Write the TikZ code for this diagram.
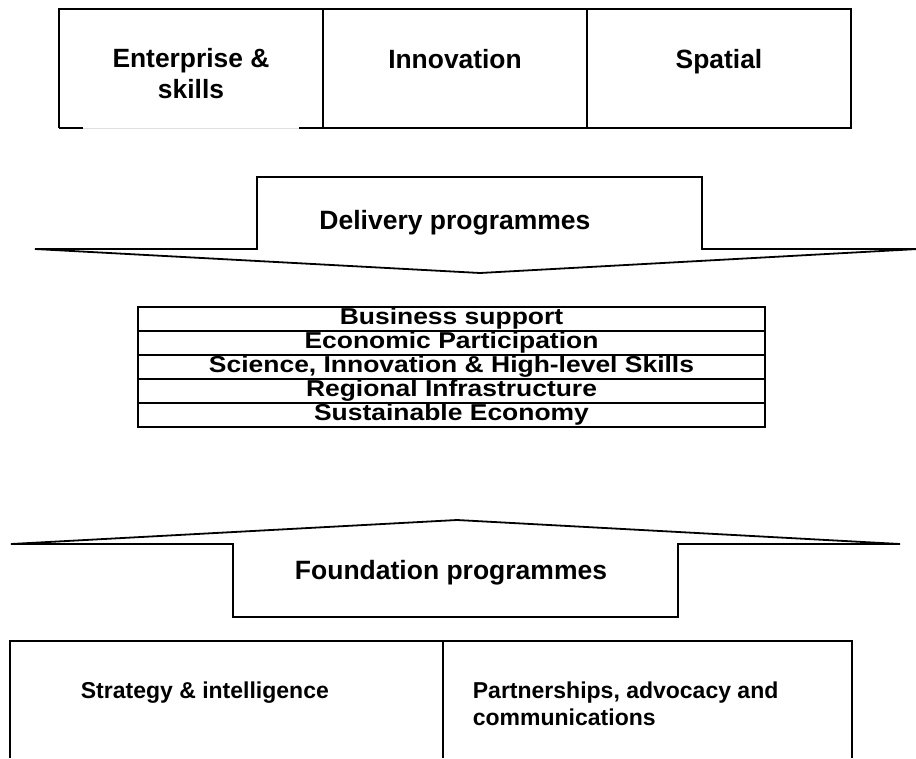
\documentclass[tikz,border=0pt]{standalone}
\usepackage{fontspec}
\setmainfont{Liberation Sans}
\newfontfamily\widesans[FakeStretch=1.15]{Liberation Sans}
\begin{document}
\begin{tikzpicture}[x=1pt,y=-1pt,line width=1.8pt,line join=miter,
  cell/.style={font=\fontsize{26.4}{31}\selectfont\bfseries,align=center},
  rowbox/.style={draw,minimum width=627pt,minimum height=24pt,inner sep=0pt,
    font=\widesans\fontsize{23}{24}\selectfont\bfseries},
  bandtext/.style={font=\fontsize{26.5}{31}\selectfont\bfseries,anchor=base},
  foot/.style={font=\fontsize{23}{27}\selectfont\bfseries,align=left,
    anchor=north west,inner sep=0pt}]
\useasboundingbox (0,0) rectangle (916,758);

% top row of three themes
\draw (59,128) -- (59,9) -- (851,9) -- (851,128) -- (299,128);
\draw (59,128) -- (83,128);
\draw[gray!25,line width=0.8pt] (83,128) -- (299,128);
\draw (323,9) -- (323,128);
\draw (587,9) -- (587,128);
\node[cell] (ent) at (191,74) {Enterprise \&\\skills};
\node[cell,anchor=base] (inn) at (455,68) {Innovation};
\node[cell,anchor=base] (spa) at (719,68) {Spatial};

% downward band
\draw (35,249) -- (257,249) -- (257,177) -- (702,177) -- (702,249) -- (918,249) -- (480,273) -- cycle;
\node[bandtext] (del) at (455,229) {Delivery programmes};

% programme table
\node[rowbox] (r1) at (451.5,319) {Business support};
\node[rowbox] (r2) at (451.5,343) {Economic Participation};
\node[rowbox] (r3) at (451.5,367) {Science, Innovation \& High-level Skills};
\node[rowbox] (r4) at (451.5,391) {Regional Infrastructure};
\node[rowbox] (r5) at (451.5,415) {Sustainable Economy};

% upward band
\draw (11,544) -- (457,520) -- (900,544) -- (678,544) -- (678,617) -- (233,617) -- (233,544) -- cycle;
\node[bandtext] (fnd) at (451,579) {Foundation programmes};

% foundation themes
\draw (10,758) -- (10,641) -- (852,641) -- (852,758);
\draw (443,641) -- (443,758);
\node[foot] (str) at (80,681) {Strategy \& intelligence};
\node[foot] (par) at (472,681) {Partnerships, advocacy and\\communications};
\end{tikzpicture}
\end{document}
